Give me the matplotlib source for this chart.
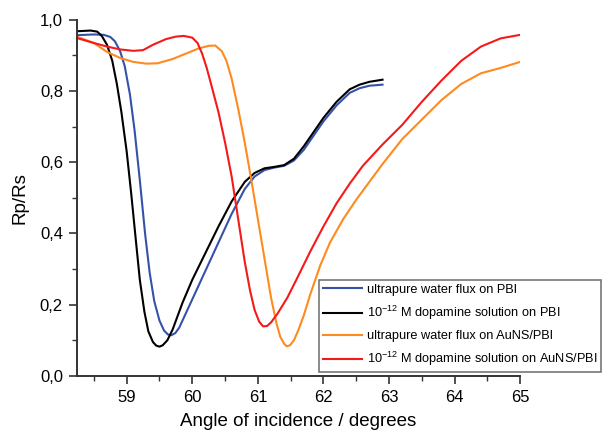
import matplotlib
matplotlib.use('Agg')
import matplotlib.pyplot as plt
from matplotlib.ticker import MultipleLocator

plt.rcParams['font.family'] = ['Liberation Sans', 'DejaVu Sans']
plt.rcParams['mathtext.fontset'] = 'custom'
plt.rcParams['mathtext.rm'] = 'Liberation Sans'
plt.rcParams['mathtext.it'] = 'Liberation Sans'
plt.rcParams['mathtext.default'] = 'regular'

# ultrapure water flux on PBI
blue_x = [58.24, 58.5, 58.65, 58.75, 58.82, 58.9, 58.97, 59.05, 59.12, 59.2, 59.28, 59.35,
          59.42, 59.5, 59.57, 59.63, 59.68, 59.74, 59.8, 59.9, 60.0, 60.2, 60.4, 60.6, 60.8,
          60.95, 61.1, 61.25, 61.4, 61.55, 61.7, 61.85, 62.0, 62.2, 62.4, 62.55, 62.7, 62.9]
blue_y = [0.957, 0.959, 0.958, 0.952, 0.94, 0.912, 0.87, 0.79, 0.69, 0.55, 0.40, 0.29,
          0.21, 0.155, 0.127, 0.116, 0.114, 0.12, 0.135, 0.175, 0.215, 0.295, 0.375, 0.455, 0.525,
          0.56, 0.578, 0.585, 0.59, 0.605, 0.635, 0.675, 0.715, 0.76, 0.795, 0.808, 0.815, 0.818]

# 10^-12 M dopamine solution on PBI
black_x = [58.24, 58.45, 58.55, 58.62, 58.7, 58.78, 58.85, 58.92, 59.0, 59.07, 59.14, 59.2,
           59.27, 59.33, 59.4, 59.45, 59.5, 59.55, 59.62, 59.7, 59.85, 60.0, 60.2, 60.4, 60.6,
           60.8, 60.95, 61.1, 61.25, 61.4, 61.55, 61.7, 61.85, 62.0, 62.2, 62.4, 62.55, 62.7, 62.9]
black_y = [0.968, 0.97, 0.967, 0.955, 0.93, 0.885, 0.82, 0.74, 0.63, 0.51, 0.38, 0.27,
           0.18, 0.125, 0.095, 0.085, 0.082, 0.086, 0.10, 0.13, 0.205, 0.27, 0.345, 0.42, 0.49,
           0.545, 0.57, 0.583, 0.587, 0.592, 0.61, 0.645, 0.685, 0.725, 0.77, 0.805, 0.818, 0.826, 0.832]

# ultrapure water flux on AuNS/PBI
orange_x = [58.24, 58.5, 58.7, 58.9, 59.1, 59.3, 59.47, 59.7, 59.9, 60.1, 60.25, 60.35, 60.45,
            60.52, 60.6, 60.7, 60.8, 60.9, 61.0, 61.1, 61.2, 61.28, 61.34, 61.4, 61.44, 61.49,
            61.55, 61.62, 61.7, 61.8, 61.95, 62.1, 62.3, 62.5, 62.7, 62.9, 63.2, 63.5, 63.8,
            64.1, 64.4, 64.7, 65.0]
orange_y = [0.953, 0.935, 0.91, 0.893, 0.882, 0.877, 0.878, 0.89, 0.905, 0.92, 0.927, 0.928, 0.912,
            0.885, 0.835, 0.75, 0.655, 0.55, 0.44, 0.33, 0.22, 0.15, 0.11, 0.09, 0.083, 0.086,
            0.10, 0.13, 0.17, 0.23, 0.31, 0.375, 0.44, 0.495, 0.545, 0.595, 0.665, 0.72, 0.775,
            0.82, 0.85, 0.865, 0.882]

# 10^-12 M dopamine solution on AuNS/PBI
red_x = [58.24, 58.5, 58.7, 58.9, 59.1, 59.25, 59.4, 59.6, 59.75, 59.87, 60.0, 60.08, 60.15,
         60.22, 60.3, 60.4, 60.5, 60.6, 60.7, 60.8, 60.88, 60.95, 61.02, 61.08, 61.14, 61.2,
         61.3, 61.45, 61.6, 61.8, 62.0, 62.2, 62.4, 62.6, 62.9, 63.2, 63.5, 63.8, 64.1, 64.4,
         64.7, 65.0]
red_y = [0.949, 0.935, 0.925, 0.917, 0.913, 0.915, 0.93, 0.946, 0.953, 0.955, 0.95, 0.935, 0.905,
         0.865, 0.81, 0.74, 0.655, 0.56, 0.44, 0.32, 0.24, 0.185, 0.152, 0.139, 0.14, 0.15,
         0.175, 0.22, 0.275, 0.35, 0.42, 0.485, 0.54, 0.59, 0.65, 0.705, 0.77, 0.83, 0.885, 0.925,
         0.948, 0.958]

labels = ['ultrapure water flux on PBI',
          '10$^{-12}$ M dopamine solution on PBI',
          'ultrapure water flux on AuNS/PBI',
          '10$^{-12}$ M dopamine solution on AuNS/PBI']
colors = ['#3552aa', '#000000', '#ff8a1e', '#f51a1a']

fig = plt.figure(figsize=(6.05, 4.32), dpi=100)
ax = fig.add_axes([0.127, 0.13, 0.733, 0.824])

for xs, ys, c, lab in zip([blue_x, black_x, orange_x, red_x],
                          [blue_y, black_y, orange_y, red_y], colors, labels):
    ax.plot(xs, ys, color=c, lw=1.5, label=lab)

ax.set_xlim(58.24, 65)
ax.set_ylim(0, 1.0)
ax.xaxis.set_major_locator(MultipleLocator(1))
ax.xaxis.set_minor_locator(MultipleLocator(0.5))
ax.yaxis.set_major_locator(MultipleLocator(0.2))
ax.yaxis.set_minor_locator(MultipleLocator(0.1))
ax.yaxis.set_major_formatter(plt.FuncFormatter(lambda v, p: f'{v:.1f}'.replace('.', ',')))

for s in ['top', 'right']:
    ax.spines[s].set_visible(False)
for s in ['left', 'bottom']:
    ax.spines[s].set_color('#333333')
    ax.spines[s].set_linewidth(1.4)
ax.tick_params(which='major', direction='out', length=6, width=1.2, color='#333333',
               labelsize=12, pad=4)
ax.tick_params(which='minor', direction='out', length=3.5, width=1.0, color='#333333')

ax.set_xlabel('Angle of incidence / degrees', fontsize=13.5, labelpad=6)
ax.set_ylabel('Rp/Rs', fontsize=13.5, labelpad=8)

leg = ax.legend(loc='lower left', bbox_to_anchor=(0.527, 0.139), bbox_transform=fig.transFigure,
                fontsize=9.2, frameon=True, fancybox=False, handlelength=3.1, handletextpad=0.35,
                labelspacing=0.62, borderpad=0.3, borderaxespad=0)
leg.get_frame().set_edgecolor('#555555')
leg.get_frame().set_linewidth(1.2)

fig.savefig('out.png', dpi=100)
